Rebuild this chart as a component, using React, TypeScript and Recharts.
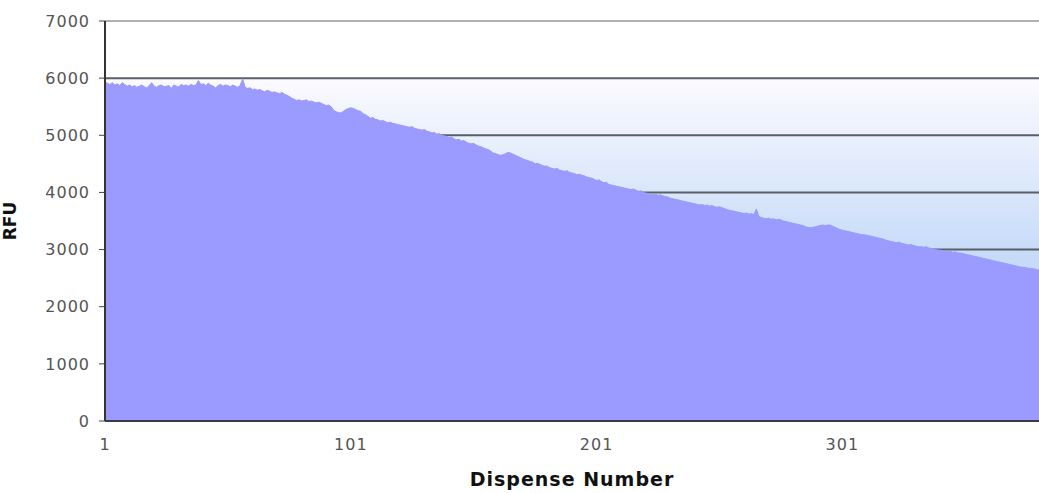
import { AreaChart, Area, XAxis, YAxis, CartesianGrid, ReferenceLine } from "recharts";

// RFU per dispense (dispense 1..381)
const rfu: number[] = [
  5930, 5910, 5890, 5920, 5880, 5900, 5870, 5920, 5890, 5860,
  5880, 5850, 5870, 5840, 5860, 5880, 5850, 5830, 5870, 5920,
  5860, 5840, 5870, 5880, 5850, 5860, 5870, 5820, 5880, 5860,
  5850, 5890, 5870, 5880, 5860, 5890, 5870, 5880, 5960, 5890,
  5900, 5870, 5910, 5880, 5860, 5830, 5870, 5890, 5860, 5880,
  5870, 5850, 5880, 5860, 5840, 5870, 5990, 5840, 5820, 5830,
  5800, 5810, 5790, 5800, 5780, 5760, 5790, 5770, 5750, 5760,
  5740, 5730, 5750, 5720, 5700, 5680, 5650, 5630, 5610, 5620,
  5600, 5610, 5620, 5590, 5600, 5580, 5570, 5580, 5560, 5540,
  5520, 5530, 5500, 5440, 5410, 5400, 5390, 5420, 5450, 5470,
  5480, 5470, 5450, 5430, 5420, 5380, 5360, 5330, 5300, 5310,
  5280, 5270, 5250, 5260, 5240, 5220, 5230, 5210, 5200, 5190,
  5180, 5170, 5160, 5150, 5140, 5150, 5120, 5110, 5100, 5090,
  5100, 5070, 5060, 5040, 5050, 5020, 5030, 5000, 4990, 4980,
  4960, 4970, 4940, 4920, 4930, 4900, 4910, 4880, 4860, 4850,
  4860, 4830, 4810, 4800, 4780, 4760, 4750, 4720, 4690, 4680,
  4660, 4650, 4660, 4680, 4700, 4690, 4670, 4650, 4630, 4610,
  4590, 4570, 4560, 4540, 4530, 4500, 4510, 4490, 4470, 4460,
  4460, 4430, 4420, 4410, 4420, 4390, 4380, 4370, 4380, 4350,
  4340, 4330, 4310, 4320, 4300, 4290, 4270, 4260, 4250, 4230,
  4210, 4220, 4190, 4170, 4180, 4140, 4130, 4120, 4110, 4100,
  4090, 4080, 4070, 4060, 4050, 4060, 4040, 4020, 4030, 4000,
  3990, 3980, 3970, 3960, 3970, 3950, 3960, 3940, 3930, 3920,
  3900, 3890, 3880, 3870, 3860, 3850, 3840, 3830, 3820, 3810,
  3800, 3790, 3780, 3790, 3770, 3780, 3760, 3770, 3750, 3740,
  3750, 3730, 3720, 3700, 3690, 3680, 3670, 3660, 3650, 3640,
  3630, 3640, 3620, 3630, 3610, 3710, 3580, 3560, 3550, 3540,
  3550, 3530, 3540, 3520, 3530, 3520, 3500, 3490, 3480, 3470,
  3460, 3450, 3440, 3430, 3420, 3400, 3390, 3380, 3390, 3400,
  3410, 3420, 3430, 3420, 3430, 3430, 3410, 3390, 3370, 3350,
  3340, 3330, 3320, 3310, 3300, 3290, 3280, 3270, 3260, 3260,
  3250, 3240, 3230, 3220, 3210, 3200, 3190, 3180, 3160, 3150,
  3140, 3130, 3120, 3130, 3110, 3100, 3090, 3080, 3090, 3070,
  3060, 3050, 3050, 3040, 3050, 3030, 3020, 3010, 3000, 2990,
  2990, 2980, 2970, 2960, 2970, 2950, 2960, 2940, 2940, 2930,
  2920, 2910, 2900, 2890, 2880, 2870, 2860, 2850, 2840, 2830,
  2820, 2810, 2800, 2790, 2780, 2770, 2760, 2750, 2740, 2730,
  2720, 2710, 2700, 2690, 2690, 2680, 2670, 2670, 2660, 2650, 2640,
];

const yTicks = [0, 1000, 2000, 3000, 4000, 5000, 6000, 7000];
const gridValues = [1000, 2000, 3000, 4000, 5000, 6000];

const data = rfu.map((v, i) => ({ dispense: i + 1, rfu: v }));

const tickStyle = { fontSize: 16, fill: "#555", letterSpacing: 1 };

export default function App() {
  return (
    <div style={{ position: "absolute", left: 0, top: 0, fontFamily: "DejaVu Sans" }}>
      <AreaChart width={1039} height={493} data={data} margin={{ top: 21, right: 0, bottom: 0, left: 0 }}>
        <defs>
          <linearGradient id="plotBg" x1="0" y1="0" x2="0" y2="1">
            <stop offset="0" stopColor="#ffffff" />
            <stop offset="0.143" stopColor="#ffffff" />
            <stop offset="0.15" stopColor="#fbfaff" />
            <stop offset="0.571" stopColor="#c8dcf9" />
            <stop offset="1" stopColor="#b2cdf5" />
          </linearGradient>
        </defs>
        <CartesianGrid
          vertical={false}
          horizontalValues={gridValues}
          stroke="#5a5e66"
          strokeWidth={2}
          fill="url(#plotBg)"
        />
        <ReferenceLine y={7000} stroke="#b0b0b0" strokeWidth={2} />
        <XAxis
          dataKey="dispense"
          interval={99}
          height={72}
          tickSize={0}
          tickMargin={18}
          tick={tickStyle}
          axisLine={{ stroke: "#3a3a4a", strokeWidth: 2 }}
          label={{ value: "Dispense Number", position: "insideBottom", offset: 7, style: { fontSize: 19, fontWeight: "bold", fill: "#111", letterSpacing: 1 } }}
        />
        <YAxis
          domain={[0, 7000]}
          ticks={yTicks}
          width={105}
          tickSize={6}
          tickMargin={9}
          tick={tickStyle}
          tickLine={{ stroke: "#444" }}
          axisLine={{ stroke: "#333", strokeWidth: 2 }}
          label={{ value: "RFU", angle: -90, position: "insideLeft", offset: 10, style: { fontSize: 17, fontWeight: "bold", fill: "#111", textAnchor: "middle" } }}
        />
        <Area
          type="linear"
          dataKey="rfu"
          stroke="#9a9aff"
          strokeWidth={1}
          fill="#9a9aff"
          fillOpacity={1}
          isAnimationActive={false}
          dot={false}
          activeDot={false}
        />
      </AreaChart>
    </div>
  );
}
